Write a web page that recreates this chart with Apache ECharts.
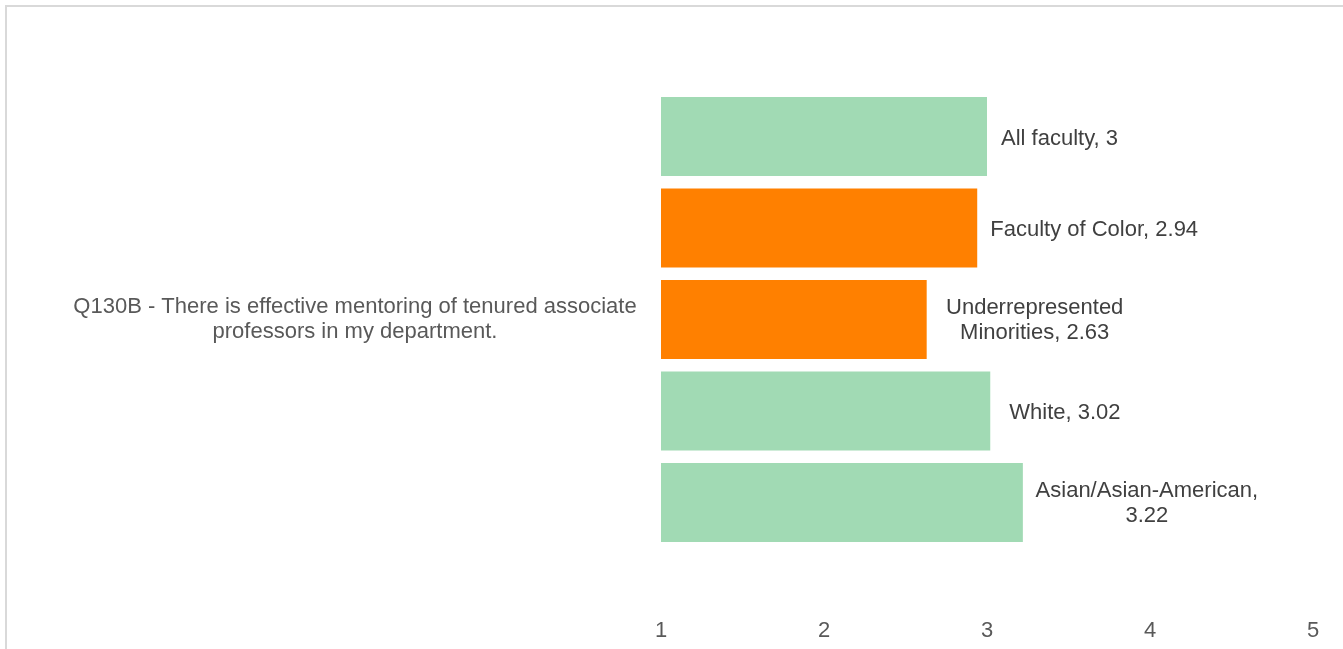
<!DOCTYPE html>
<html>
<head>
<meta charset="utf-8">
<script src="https://cdn.jsdelivr.net/npm/echarts@6/dist/echarts.min.js"></script>
<style>
  html, body { margin: 0; padding: 0; background: #fff; }
  #main { width: 1343px; height: 649px; }
</style>
</head>
<body>
<div id="main"></div>
<script>
// data
var question = 'Q130B - There is effective mentoring of tenured associate\nprofessors in my department.';
var groups = ['All faculty', 'Faculty of Color', 'Underrepresented Minorities', 'White', 'Asian/Asian-American'];
var groupLabels = ['All faculty', 'Faculty of Color', 'Underrepresented\nMinorities', 'White', 'Asian/Asian-American,\n'];
var scores = [3, 2.94, 2.63, 3.02, 3.22];
var xTicks = [1, 2, 3, 4, 5];

var green = '#a1dab4';
var orange = '#ff8000';
var barColors = [green, orange, orange, green, green];

var textColor = '#404040';
var font = 'Liberation Sans, Arial, sans-serif';

// per-bar label placement (two-line labels are centred, as in the original)
var labelCfg = [
  { position: 'right', distance: 14, offset: [0, 2] },
  { position: 'right', distance: 13, offset: [0, 2] },
  { position: ['100%', '50%'], align: 'center', verticalAlign: 'middle', offset: [108, 1] },
  { position: 'right', distance: 19, offset: [0, 2] },
  { position: ['100%', '50%'], align: 'center', verticalAlign: 'middle', offset: [124, 1] }
];

var series = [];
for (var i = 0; i < groups.length; i++) {
  (function (i) {
    var lbl = Object.assign({
      show: true,
      color: textColor,
      fontSize: 22,
      fontFamily: font,
      lineHeight: 25,
      formatter: function (p) {
        var sep = groupLabels[i].slice(-1) === '\n' ? '' : ', ';
        return groupLabels[i] + sep + p.value;
      }
    }, labelCfg[i]);
    series.push({
      name: groups[i],
      type: 'bar',
      data: [scores[i]],
      barGap: '16%',
      barCategoryGap: '0%',
      itemStyle: { color: barColors[i] },
      label: lbl,
      emphasis: { disabled: true },
      animation: false
    });
  })(i);
}

var myChart = echarts.init(document.getElementById('main'));
var option = {
  backgroundColor: '#fff',
  animation: false,
  graphic: {
    elements: [{
      type: 'rect',
      shape: { x: 6, y: 6, width: 1400, height: 700 },
      style: { fill: 'none', stroke: '#d9d9d9', lineWidth: 2 },
      silent: true
    }]
  },
  grid: { left: 661, right: 30, top: 97, bottom: 107, containLabel: false },
  xAxis: {
    type: 'value',
    min: xTicks[0],
    max: xTicks[xTicks.length - 1],
    interval: 1,
    splitLine: { show: false },
    axisLine: { show: false },
    axisTick: { show: false },
    axisLabel: { color: '#595959', fontSize: 22, fontFamily: font, margin: 78 }
  },
  yAxis: {
    type: 'category',
    inverse: true,
    data: [question],
    axisLine: { show: false },
    axisTick: { show: false },
    axisLabel: {
      color: '#595959',
      fontSize: 22,
      fontFamily: font,
      lineHeight: 25,
      align: 'center',
      margin: 306
    }
  },
  series: series
};
myChart.setOption(option);
window.addEventListener('resize', function () {
  myChart.resize();
});
</script>
</body>
</html>
